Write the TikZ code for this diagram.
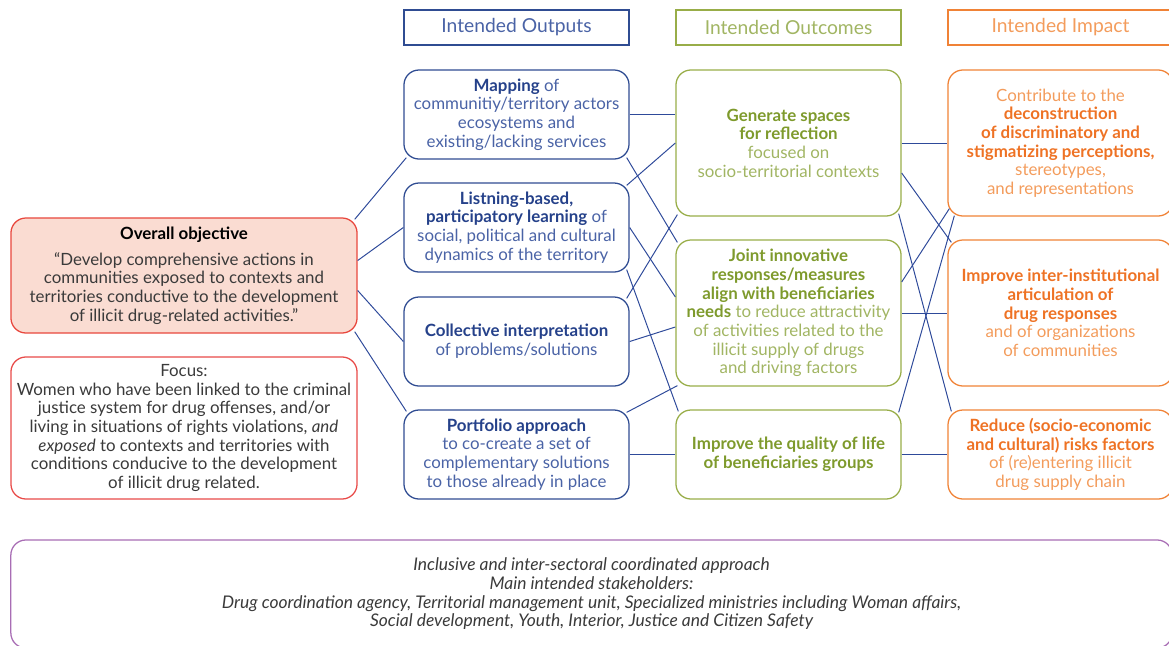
\documentclass[tikz,border=0pt]{standalone}
\usepackage{fontspec}
\setmainfont{Lato}
\usepackage{xcolor}

\definecolor{linkblue}{HTML}{2E4A9A}
\definecolor{outline}{HTML}{2F4C92}
\definecolor{outdark}{HTML}{25418A}
\definecolor{outlight}{HTML}{4A63A6}
\definecolor{grnline}{HTML}{98AD48}
\definecolor{grndark}{HTML}{7E9A2C}
\definecolor{grnlight}{HTML}{A1B563}
\definecolor{orgline}{HTML}{F08236}
\definecolor{orgdark}{HTML}{EE7224}
\definecolor{orglight}{HTML}{F39C5C}
\definecolor{objfill}{HTML}{FADCD2}
\definecolor{objline}{HTML}{E8473D}
\definecolor{focusline}{HTML}{E84A48}
\definecolor{stakeline}{HTML}{A86DB4}
\definecolor{bodygrey}{HTML}{3A3A3A}
\colorlet{kwcolor}{black}

\newcommand{\kw}[1]{{\color{kwcolor}\bfseries #1}}

\begin{document}
\begin{tikzpicture}[x=0.025cm, y=-0.025cm,
    box/.style={draw, rounded corners=0.375cm, line width=0.9pt, align=center,
      minimum width=5.625cm, inner sep=2pt, font=\fontsize{12}{13.3}\selectfont},
    outbox/.style={box, draw=outline, text=outlight,
      execute at begin node=\colorlet{kwcolor}{outdark}, minimum height=2.225cm},
    ocbox/.style={box, draw=grnline, text=grnlight,
      execute at begin node=\colorlet{kwcolor}{grndark}, minimum height=#1},
    impbox/.style={box, draw=orgline, text=orglight,
      execute at begin node=\colorlet{kwcolor}{orgdark}, minimum height=#1},
    head/.style={draw, line width=0.9pt, minimum width=5.625cm, minimum height=0.875cm,
      font=\fontsize{13.7}{15}\selectfont},
    link/.style={draw=linkblue, line width=0.7pt}]
    \useasboundingbox (0,0) rectangle (1169,645);
    \clip (0,0) rectangle (1169,645);

    \node[head, draw=outline, text=outlight] (hout) at (516.5,27.5) {Intended Outputs};
    \node[head, draw=grnline, text=grnlight] (hoc) at (788.5,27.5) {Intended Outcomes};
    \node[head, draw=orgline, text=orglight] (himp) at (1060.5,27.5) {Intended Impact};

    \node[box, draw=objline, fill=objfill, text=bodygrey, minimum width=8.65cm, minimum height=2.875cm] (obj) at (184,275.5)
      {\kw{Overall objective}\\[5pt]
       “Develop comprehensive actions in\\
       communities exposed to contexts and\\
       territories conductive to the development\\
       of illicit drug-related activities.”};
    \node[box, draw=focusline, text=bodygrey, minimum width=8.65cm, minimum height=3.55cm] (focus) at (184,428)
      {Focus:\\
       Women who have been linked to the criminal\\
       justice system for drug offenses, and/or\\
       living in situations of rights violations, \textit{and}\\
       \textit{exposed} to contexts and territories with\\
       conditions conducive to the development\\
       of illicit drug related.};

    \node[outbox] (o1) at (516.5,114.5)
      {\kw{Mapping} of\\ communitiy/territory actors\\ ecosystems and\\ existing/lacking services};
    \node[outbox] (o2) at (516.5,227.5)
      {\kw{Listning-based,}\\ \kw{participatory learning} of\\ social, political and cultural\\ dynamics of the territory};
    \node[outbox] (o3) at (516.5,341.5)
      {\kw{Collective interpretation}\\ of problems/solutions};
    \node[outbox] (o4) at (516.5,454.5)
      {\kw{Portfolio approach}\\ to co-create a set of\\ complementary solutions\\ to those already in place};

    \node[ocbox=3.65cm] (c1) at (788.5,143)
      {\kw{Generate spaces}\\ \kw{for reflection}\\ focused on\\ socio-territorial contexts};
    \node[ocbox=3.65cm] (c2) at (788.5,313)
      {\kw{Joint innovative}\\ \kw{responses/measures}\\ \kw{align with beneficiaries}\\
       \kw{needs} to reduce attractivity\\ of activities related to the\\ illicit supply of drugs\\ and driving factors};
    \node[ocbox=2.225cm] (c3) at (788.5,454.5)
      {\kw{Improve the quality of life}\\ \kw{of beneficiaries groups}};

    \node[impbox=3.65cm] (i1) at (1060.5,143)
      {Contribute to the\\ \kw{deconstruction}\\ \kw{of discriminatory and}\\ \kw{stigmatizing perceptions,}\\
       stereotypes,\\ and representations};
    \node[impbox=3.65cm] (i2) at (1060.5,313)
      {\kw{Improve inter-institutional}\\ \kw{articulation of}\\ \kw{drug responses}\\ and of organizations\\ of communities};
    \node[impbox=2.225cm] (i3) at (1060.5,454.5)
      {\kw{Reduce (socio-economic}\\ \kw{and cultural) risks factors}\\ of (re)entering illicit\\ drug supply chain};

    \node[box, draw=stakeline, text=bodygrey, minimum width=29.025cm, minimum height=2.7cm,
      font=\fontsize{12.4}{13.3}\selectfont\itshape] (stake) at (591.5,594)
      {Inclusive and inter-sectoral coordinated approach\\
       Main intended stakeholders:\\
       Drug coordination agency, Territorial management unit, Specialized ministries including Woman affairs,\\
       Social development, Youth, Interior, Justice and Citizen Safety};

    \draw[link] ([shift={(-3,2)}]obj.north east) -- ([shift={(3,-2)}]o1.south west);
    \draw[link] ([shift={(0,-15)}]obj.east) -- (o2.west);
    \draw[link] ([shift={(0,15)}]obj.east) -- (o3.west);
    \draw[link] ([shift={(-3,-2)}]obj.south east) -- ([shift={(3,2)}]o4.north west);

    \draw[link] (o1.east) -- (c1.west |- o1.east);
    \draw[link] ([shift={(-3,-2)}]o1.south east) -- ([shift={(2,3)}]c2.north west);
    \draw[link] ([shift={(-3,3)}]o2.north east) -- (c1.west);
    \draw[link] (o2.east) -- ([shift={(0,-16)}]c2.west);
    \draw[link] ([shift={(-3,-3)}]o2.south east) -- ([shift={(3,2)}]c3.north west);
    \draw[link] ([shift={(-3,2)}]o3.north east) -- ([shift={(2,-2)}]c1.south west);
    \draw[link] (o3.east) -- ([shift={(0,14)}]c2.west);
    \draw[link] ([shift={(-3,3)}]o4.north east) -- ([shift={(2,-1)}]c2.south west);
    \draw[link] (o4.east) -- (c3.west);

    \draw[link] (c1.east) -- (i1.west);
    \draw[link] ([shift={(0,30)}]c1.east) -- ([shift={(4,3)}]i2.north west);
    \draw[link] ([shift={(-3,-3)}]c1.south east) -- ([shift={(4,2)}]i3.north west);
    \draw[link] ([shift={(0,-31)}]c2.east) -- ([shift={(2,-8)}]i1.south west);
    \draw[link] (c2.east) -- (i2.west);
    \draw[link] ([shift={(-3,3)}]c3.north east) -- ([shift={(7,-1)}]i1.south west);
    \draw[link] (c3.east) -- (i3.west);
\end{tikzpicture}
\end{document}
